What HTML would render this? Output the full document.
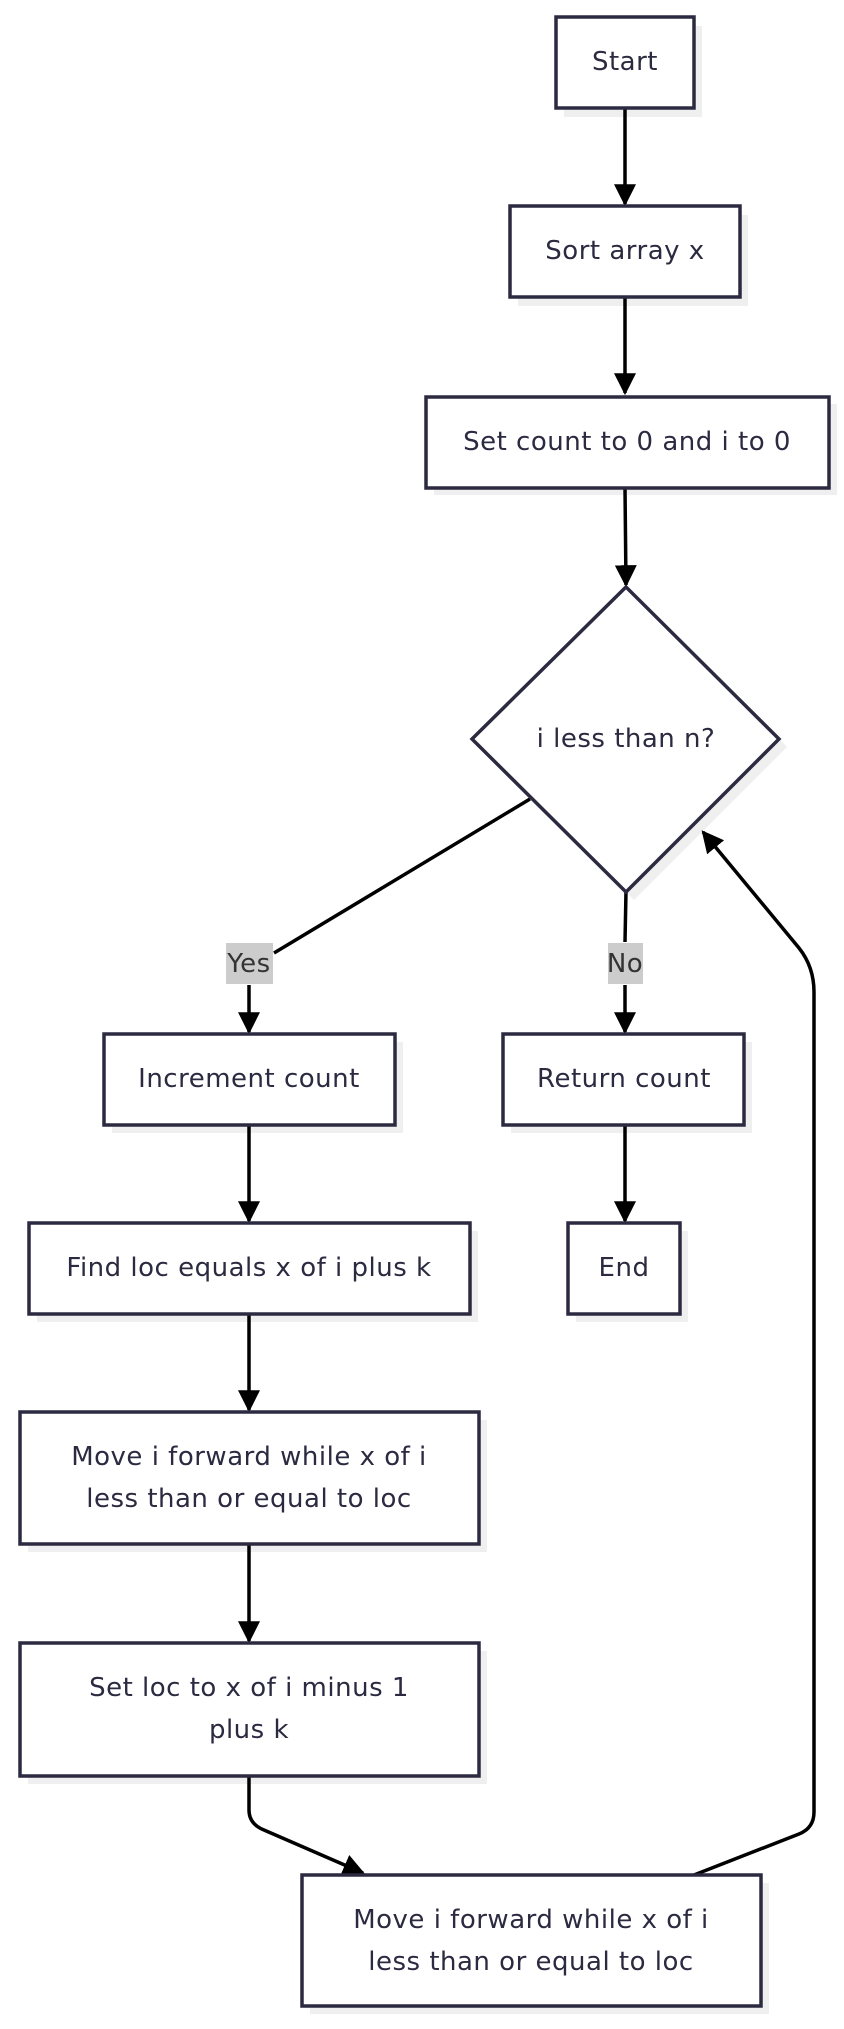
<!DOCTYPE html>
<html><head><meta charset="utf-8"><style>
html,body{margin:0;padding:0;background:#fff;}
svg{display:block;}
text{font-family:"DejaVu Sans","Liberation Sans",sans-serif;font-size:26px;letter-spacing:0.5px;fill:#2b2a40;text-anchor:middle;dominant-baseline:central;}
.b{fill:#fff;stroke:#2b2a40;stroke-width:3.5;}
.s{fill:#efefef;}
.e{fill:none;stroke:#000;stroke-width:3.5;}
</style></head><body>
<svg width="844" height="2029" viewBox="0 0 844 2029" xmlns="http://www.w3.org/2000/svg">
<defs>
<marker id="ah" viewBox="0 0 10 10" refX="9" refY="5" markerWidth="22" markerHeight="22" orient="auto" markerUnits="userSpaceOnUse"><path d="M0,0 L10,5 L0,10 z" fill="#000"/></marker></defs>
<g transform="translate(2,2)">
<!-- shadows -->
<rect class="s" x="562" y="24" width="138" height="91"/>
<rect class="s" x="516" y="213" width="230" height="91"/>
<rect class="s" x="432" y="402" width="403" height="91"/>
<polygon class="s" points="632,593 785,745 632,898 478,745"/>
<rect class="s" x="110" y="1040" width="291" height="91"/>
<rect class="s" x="509" y="1040" width="241" height="91"/>
<rect class="s" x="35" y="1229" width="441" height="91"/>
<rect class="s" x="574" y="1229" width="112" height="91"/>
<rect class="s" x="26" y="1418" width="459" height="132"/>
<rect class="s" x="26" y="1649" width="459" height="133"/>
<rect class="s" x="308" y="1881" width="459" height="131"/>

<!-- edges -->
<path class="e" d="M623,106 V202" marker-end="url(#ah)"/>
<path class="e" d="M623,295 V391" marker-end="url(#ah)"/>
<path class="e" d="M623,486 L624,583" marker-end="url(#ah)"/>
<path class="e" d="M528,797 L272,951"/>
<path class="e" d="M247,983 V1030" marker-end="url(#ah)"/>
<path class="e" d="M624,889 L623,940"/>
<path class="e" d="M623,983 V1030" marker-end="url(#ah)"/>
<path class="e" d="M247,1123 V1219" marker-end="url(#ah)"/>
<path class="e" d="M623,1123 V1219" marker-end="url(#ah)"/>
<path class="e" d="M247,1312 V1408" marker-end="url(#ah)"/>
<path class="e" d="M247,1542 V1639" marker-end="url(#ah)"/>
<path class="e" d="M247,1774 V1808 Q247,1822 262,1828 L361,1871" marker-end="url(#ah)"/>
<path class="e" d="M692,1873 L797,1832 Q812,1826 812,1810 V990 Q812,965 797,946 L701,830" marker-end="url(#ah)"/>

<!-- labels -->
<rect x="224" y="941" width="47" height="41" fill="#cccccc"/>
<text x="247" y="962" style="fill:#333">Yes</text>
<rect x="606" y="941" width="35" height="41" fill="#cccccc"/>
<text x="623" y="962" style="fill:#333">No</text>

<!-- nodes -->
<rect class="b" x="554" y="15" width="138" height="91"/>
<text x="623" y="60">Start</text>
<rect class="b" x="508" y="204" width="230" height="91"/>
<text x="623" y="249">Sort array x</text>
<rect class="b" x="424" y="395" width="403" height="91"/>
<text x="625" y="440">Set count to 0 and i to 0</text>
<polygon class="b" points="624,585 777,737 624,890 470,737"/>
<text x="624" y="737">i less than n?</text>
<rect class="b" x="102" y="1032" width="291" height="91"/>
<text x="247" y="1077">Increment count</text>
<rect class="b" x="501" y="1032" width="241" height="91"/>
<text x="622" y="1077">Return count</text>
<rect class="b" x="27" y="1221" width="441" height="91"/>
<text x="247" y="1266">Find loc equals x of i plus k</text>
<rect class="b" x="566" y="1221" width="112" height="91"/>
<text x="622" y="1266">End</text>
<rect class="b" x="18" y="1410" width="459" height="132"/>
<text x="247" y="1455">Move i forward while x of i</text>
<text x="247" y="1497">less than or equal to loc</text>
<rect class="b" x="18" y="1641" width="459" height="133"/>
<text x="247" y="1686">Set loc to x of i minus 1</text>
<text x="247" y="1728">plus k</text>
<rect class="b" x="300" y="1873" width="459" height="131"/>
<text x="529" y="1918">Move i forward while x of i</text>
<text x="529" y="1960">less than or equal to loc</text>
</g>
</svg>
</body></html>
